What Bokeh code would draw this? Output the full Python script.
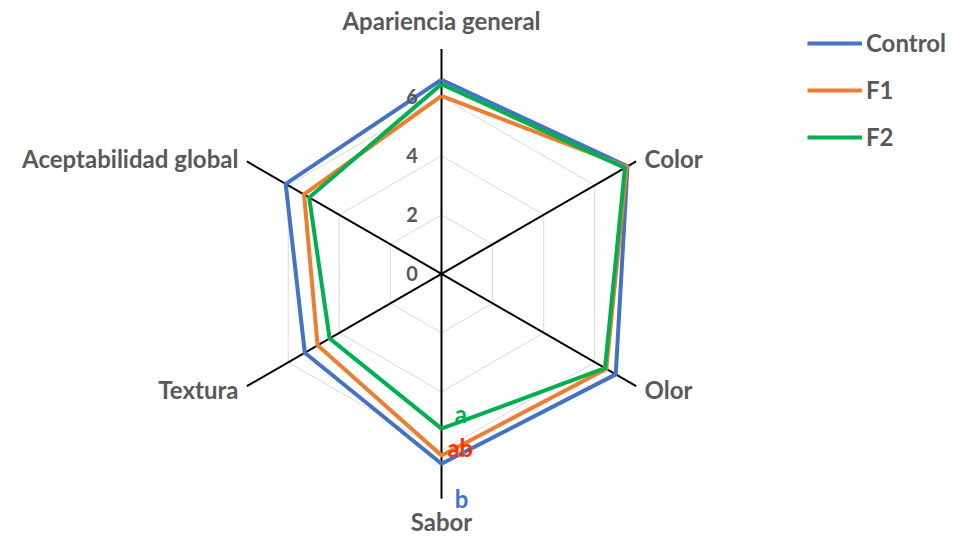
import numpy as np
from bokeh.plotting import figure
from bokeh.models import Legend, LegendItem, Range1d
from bokeh.core.properties import value
from bokeh.embed import file_html
from bokeh.resources import INLINE

# ---- data ----
categories = ["Apariencia general", "Color", "Olor", "Sabor", "Textura", "Aceptabilidad global"]
control = [6.58, 7.28, 6.82, 6.44, 5.35, 6.10]
f1 = [6.03, 7.25, 6.45, 6.16, 4.85, 5.38]
f2 = [6.43, 7.18, 6.40, 5.25, 4.38, 5.18]
series_names = ["Control", "F1", "F2"]
series_colors = ["#4472C4", "#ED7D31", "#00B050"]
tick_values = [0, 2, 4, 6]
sabor_letters = ["b", "ab", "a"]
letter_colors = ["#4472C4", "#FF3300", "#00B050"]

# ---- geometry ----
AX_MAX = 7.62
UNIT = 29.5  # px per unit
W, H = 945, 538
cx_px, cy_px = 441, 273.3
angles = np.deg2rad([90, 30, -30, -90, -150, 150])

p = figure(width=W, height=H, output_backend="svg", toolbar_location=None,
           x_range=Range1d(-cx_px / UNIT, (W - cx_px) / UNIT),
           y_range=Range1d(-(H - cy_px) / UNIT, cy_px / UNIT),
           min_border=0)
p.axis.visible = False
p.grid.visible = False
p.outline_line_color = None

FONT = value("Lato")
GRAY = "#595959"

# gridlines
for t in tick_values[1:]:
    xs = list(t * np.cos(angles)) + [t * np.cos(angles[0])]
    ys = list(t * np.sin(angles)) + [t * np.sin(angles[0])]
    p.line(xs, ys, line_color="#D9D9D9", line_width=1)

# axis spokes
p.segment(x0=[0] * 6, y0=[0] * 6, x1=list(AX_MAX * np.cos(angles)),
          y1=list(AX_MAX * np.sin(angles)), line_color="black", line_width=2)

# series
renderers = []
for vals, col in zip([control, f1, f2], series_colors):
    v = np.array(vals + [vals[0]])
    a = np.concatenate([angles, angles[:1]])
    r = p.line(list(v * np.cos(a)), list(v * np.sin(a)), line_color=col,
               line_width=4, line_join="round")
    renderers.append(r)

# radial tick labels
p.text(x=[-0.8] * len(tick_values), y=tick_values, text=[str(t) for t in tick_values],
       text_align="right", text_baseline="middle", text_font=FONT,
       text_font_style="bold", text_font_size="20px", text_color=GRAY)

# category labels
lx, ly, la = [], [], []
for ang, cat in zip(angles, categories):
    c, s = np.cos(ang), np.sin(ang)
    if abs(c) < 1e-6:
        lx.append(0); ly.append((8.6 if s > 0 else 8.4) * np.sign(s)); la.append("center")
    else:
        lx.append(7.95 * c); ly.append(8.0 * s * 0.98); la.append("left" if c > 0 else "right")
p.text(x=lx, y=ly, text=categories, text_align=la, text_baseline="middle",
       text_font=FONT, text_font_style="bold", text_font_size="24px", text_color=GRAY)

# significance letters (Sabor)
p.text(x=[0.45, 0.2, 0.45], y=[-7.6, -5.9, -4.72], text=sabor_letters,
       text_align="left", text_baseline="middle", text_font=FONT,
       text_font_style="bold", text_font_size="24px", text_color=letter_colors)

legend = Legend(items=[LegendItem(label=n, renderers=[r]) for n, r in zip(series_names, renderers)],
                location=(807, H - 151), orientation="vertical", padding=0, margin=0,
                spacing=18, glyph_width=55, glyph_height=28, label_height=28,
                label_standoff=4, border_line_color=None, background_fill_alpha=0,
                label_text_font="Lato", label_text_font_style="bold",
                label_text_font_size="24px", label_text_color=GRAY)
p.add_layout(legend)

open("out.html", "w").write(file_html(p, INLINE))
